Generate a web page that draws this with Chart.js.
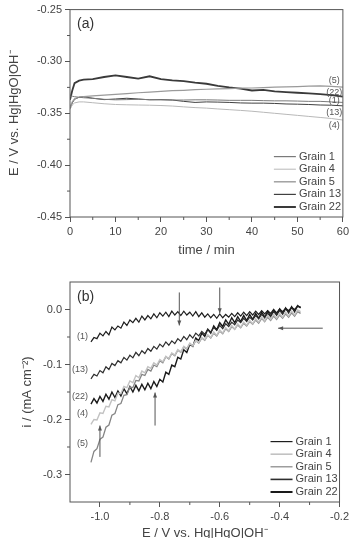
<!DOCTYPE html>
<html>
<head>
<meta charset="utf-8">
<script src="https://cdn.jsdelivr.net/npm/chart.js@4.4.0/dist/chart.umd.min.js"></script>
<style>
  html, body { margin: 0; padding: 0; background: #fff; overflow: hidden; }
  canvas { display: block; }
  #wrapA { position: absolute; left: 0; top: 0; width: 352px; height: 265px; }
  #wrapB { position: absolute; left: 0; top: 265px; width: 352px; height: 273px; }
</style>
</head>
<body>
<div id="wrapA"><canvas id="chartA" width="352" height="265"></canvas></div>
<div id="wrapB"><canvas id="chartB" width="352" height="273"></canvas></div>
<script>
// ---- panel (a): potential vs time ----
const timeMin = [0, 0.5, 1, 2, 3, 5, 7.5, 10, 12.5, 15, 17.5, 20, 22.5, 25, 27.5, 30, 32.5, 35, 37.5, 40, 42.5, 45, 47.5, 50, 52.5, 55, 57.5, 60];
const ocpGrain1 = [-0.3335, -0.3335, -0.334, -0.3345, -0.335, -0.3355, -0.3365, -0.337, -0.3368, -0.3365, -0.3368, -0.337, -0.3372, -0.3372, -0.337, -0.337, -0.3372, -0.3375, -0.3375, -0.3375, -0.3378, -0.338, -0.338, -0.3382, -0.3385, -0.3385, -0.339, -0.3395];
const ocpGrain4 = [-0.346, -0.342, -0.340, -0.339, -0.339, -0.3398, -0.3408, -0.3415, -0.3418, -0.342, -0.3422, -0.3425, -0.343, -0.3438, -0.3445, -0.345, -0.3458, -0.3465, -0.3472, -0.348, -0.349, -0.350, -0.351, -0.352, -0.353, -0.354, -0.355, -0.3565];
const ocpGrain5 = [-0.344, -0.339, -0.336, -0.3345, -0.334, -0.3332, -0.3325, -0.3318, -0.331, -0.3302, -0.3295, -0.3288, -0.3282, -0.3278, -0.3272, -0.3268, -0.3264, -0.3262, -0.3258, -0.3256, -0.3252, -0.3248, -0.3245, -0.3242, -0.3238, -0.3236, -0.324, -0.3248];
const ocpGrain13 = [-0.346, -0.340, -0.3365, -0.3345, -0.334, -0.3355, -0.3368, -0.3362, -0.3355, -0.3362, -0.337, -0.3368, -0.3372, -0.3385, -0.3395, -0.339, -0.3392, -0.3395, -0.340, -0.3402, -0.3402, -0.3405, -0.341, -0.3412, -0.3415, -0.342, -0.3422, -0.3428];
const ocpGrain22 = [-0.337, -0.328, -0.321, -0.3185, -0.3175, -0.317, -0.315, -0.3135, -0.315, -0.3165, -0.3143, -0.317, -0.3182, -0.319, -0.3205, -0.3215, -0.3235, -0.325, -0.3262, -0.328, -0.3275, -0.3288, -0.3295, -0.3302, -0.3308, -0.3315, -0.3325, -0.334];
const timeTicks = [0, 10, 20, 30, 40, 50, 60];
const ocpTicks = [-0.45, -0.40, -0.35, -0.30, -0.25];

// ---- panel (b): current vs potential ----
const potentialE = [
  -1.03, -1.02, -1.01, -1.00, -0.99, -0.98, -0.97, -0.96, -0.95, -0.94,
  -0.93, -0.92, -0.91, -0.90, -0.89, -0.88, -0.87, -0.86, -0.85, -0.84,
  -0.83, -0.82, -0.81, -0.80, -0.79, -0.78, -0.77, -0.76, -0.75, -0.74,
  -0.73, -0.72, -0.71, -0.70, -0.69, -0.68, -0.67, -0.66, -0.65, -0.64,
  -0.63, -0.62, -0.61, -0.60, -0.59, -0.58, -0.57, -0.56, -0.55, -0.54,
  -0.53, -0.52, -0.51, -0.50, -0.49, -0.48, -0.47, -0.46, -0.45, -0.44,
  -0.43, -0.42, -0.41, -0.40, -0.39, -0.38, -0.37, -0.36, -0.35, -0.34,
  -0.33];
const curGrain1 = [
  -0.059, -0.051, -0.053, -0.043, -0.048, -0.040, -0.046, -0.032, -0.037, -0.030,
  -0.034, -0.023, -0.029, -0.019, -0.024, -0.016, -0.023, -0.012, -0.019, -0.011,
  -0.017, -0.008, -0.015, -0.006, -0.012, -0.005, -0.013, -0.003, -0.010, -0.004,
  -0.011, -0.003, -0.010, -0.005, -0.012, -0.004, -0.013, -0.006, -0.014, -0.008,
  -0.015, -0.009, -0.016, -0.008, -0.015, -0.009, -0.014, -0.007, -0.013, -0.006,
  -0.012, -0.005, -0.011, -0.004, -0.010, -0.003, -0.009, -0.002, -0.008, -0.002,
  -0.007, 0.000, -0.006, 0.001, -0.004, 0.002, -0.002, 0.004, 0.000, 0.006,
  0.004];
const curGrain4 = [
  -0.209, -0.200, -0.201, -0.188, -0.189, -0.176, -0.177, -0.164, -0.166, -0.152,
  -0.153, -0.140, -0.142, -0.130, -0.133, -0.120, -0.124, -0.112, -0.115, -0.104,
  -0.107, -0.097, -0.101, -0.091, -0.095, -0.085, -0.089, -0.079, -0.083, -0.073,
  -0.077, -0.067, -0.071, -0.061, -0.066, -0.056, -0.060, -0.051, -0.055, -0.046,
  -0.051, -0.041, -0.047, -0.037, -0.043, -0.033, -0.039, -0.029, -0.036, -0.026,
  -0.032, -0.023, -0.029, -0.020, -0.026, -0.017, -0.023, -0.014, -0.021, -0.011,
  -0.018, -0.009, -0.016, -0.007, -0.014, -0.005, -0.012, -0.003, -0.010, -0.001,
  -0.004];
const curGrain5 = [
  -0.278, -0.258, -0.253, -0.236, -0.232, -0.214, -0.210, -0.192, -0.189, -0.173,
  -0.171, -0.156, -0.155, -0.141, -0.142, -0.129, -0.130, -0.118, -0.120, -0.109,
  -0.112, -0.101, -0.104, -0.093, -0.097, -0.086, -0.090, -0.080, -0.084, -0.074,
  -0.078, -0.068, -0.072, -0.062, -0.066, -0.057, -0.061, -0.052, -0.056, -0.047,
  -0.052, -0.043, -0.048, -0.039, -0.044, -0.035, -0.040, -0.031, -0.036, -0.028,
  -0.033, -0.025, -0.030, -0.022, -0.027, -0.019, -0.025, -0.016, -0.022, -0.014,
  -0.020, -0.012, -0.018, -0.010, -0.016, -0.008, -0.014, -0.006, -0.012, -0.004,
  -0.007];
const curGrain13 = [
  -0.126, -0.118, -0.121, -0.111, -0.115, -0.104, -0.109, -0.098, -0.102, -0.093,
  -0.097, -0.087, -0.092, -0.083, -0.088, -0.078, -0.084, -0.075, -0.080, -0.071,
  -0.076, -0.067, -0.072, -0.063, -0.068, -0.059, -0.065, -0.057, -0.062, -0.053,
  -0.058, -0.049, -0.055, -0.046, -0.052, -0.043, -0.048, -0.040, -0.045, -0.036,
  -0.041, -0.033, -0.038, -0.029, -0.035, -0.026, -0.031, -0.023, -0.028, -0.019,
  -0.024, -0.016, -0.022, -0.014, -0.019, -0.011, -0.017, -0.009, -0.015, -0.007,
  -0.013, -0.004, -0.010, -0.002, -0.008, 0.001, -0.005, 0.003, -0.002, 0.006,
  0.004];
const curGrain22 = [
  -0.172, -0.162, -0.170, -0.158, -0.167, -0.154, -0.163, -0.150, -0.160, -0.148,
  -0.157, -0.144, -0.153, -0.140, -0.150, -0.138, -0.148, -0.136, -0.146, -0.134,
  -0.144, -0.131, -0.140, -0.127, -0.132, -0.114, -0.118, -0.101, -0.104, -0.087,
  -0.090, -0.073, -0.078, -0.063, -0.067, -0.052, -0.057, -0.043, -0.049, -0.036,
  -0.043, -0.030, -0.037, -0.024, -0.031, -0.019, -0.027, -0.015, -0.024, -0.013,
  -0.022, -0.011, -0.020, -0.009, -0.018, -0.007, -0.016, -0.005, -0.014, -0.003,
  -0.012, -0.001, -0.010, 0.001, -0.008, 0.003, -0.006, 0.005, -0.004, 0.007,
  0.003];
const potTicks = [-1.0, -0.8, -0.6, -0.4, -0.2];
const curTicks = [-0.3, -0.2, -0.1, 0.0];

const grainNames = ['Grain 1', 'Grain 4', 'Grain 5', 'Grain 13', 'Grain 22'];

Chart.defaults.font.family = '"Liberation Sans", Arial, sans-serif';
Chart.defaults.color = '#444';

// frame, minor ticks, legend, labels and arrows drawn on top
const framePlugin = {
  id: 'frame',
  afterDraw(chart, args, opts) {
    const { ctx, chartArea: a, scales } = chart;
    const sx = scales.x, sy = scales.y;
    ctx.save();
    ctx.strokeStyle = '#555';
    ctx.lineWidth = 1;
    ctx.strokeRect(a.left, a.top, a.width, a.height);

    // minor ticks
    ctx.beginPath();
    opts.minorX.forEach(v => {
      const x = sx.getPixelForValue(v);
      ctx.moveTo(x, a.bottom); ctx.lineTo(x, a.bottom + 3);
    });
    opts.minorY.forEach(v => {
      const y = sy.getPixelForValue(v);
      ctx.moveTo(a.left - 3, y); ctx.lineTo(a.left, y);
    });
    ctx.stroke();

    // panel letter
    ctx.fillStyle = '#333';
    ctx.font = '14px "Liberation Sans", Arial, sans-serif';
    ctx.textBaseline = 'middle';
    ctx.textAlign = 'left';
    ctx.fillText(opts.letter, a.left + 7, a.top + 15);

    // curve labels
    ctx.font = '9px "Liberation Sans", Arial, sans-serif';
    ctx.fillStyle = '#555';
    ctx.textAlign = opts.labelAlign;
    opts.labels.forEach(l => {
      ctx.fillText(l.text, sx.getPixelForValue(l.x), sy.getPixelForValue(l.y));
    });

    // arrows
    ctx.strokeStyle = '#555';
    ctx.fillStyle = '#555';
    (opts.arrows || []).forEach(ar => {
      const x1 = sx.getPixelForValue(ar.from[0]), y1 = sy.getPixelForValue(ar.from[1]);
      const x2 = sx.getPixelForValue(ar.to[0]), y2 = sy.getPixelForValue(ar.to[1]);
      const ang = Math.atan2(y2 - y1, x2 - x1);
      ctx.beginPath();
      ctx.moveTo(x1, y1); ctx.lineTo(x2, y2);
      ctx.stroke();
      ctx.beginPath();
      ctx.moveTo(x2, y2);
      ctx.lineTo(x2 - 5 * Math.cos(ang) + 2 * Math.sin(ang), y2 - 5 * Math.sin(ang) - 2 * Math.cos(ang));
      ctx.lineTo(x2 - 5 * Math.cos(ang) - 2 * Math.sin(ang), y2 - 5 * Math.sin(ang) + 2 * Math.cos(ang));
      ctx.closePath();
      ctx.fill();
    });

    // legend in the lower right corner
    ctx.font = '11px "Liberation Sans", Arial, sans-serif';
    ctx.textAlign = 'left';
    const ds = chart.data.datasets;
    ds.forEach((d, i) => {
      const y = a.bottom - 10 - (ds.length - 1 - i) * 12.6;
      ctx.strokeStyle = d.borderColor;
      ctx.lineWidth = opts.legendWidths[i];
      ctx.beginPath();
      ctx.moveTo(a.right - 69, y); ctx.lineTo(a.right - 47, y);
      ctx.stroke();
      ctx.fillStyle = '#444';
      ctx.fillText(d.label, a.right - 44, y);
    });
    ctx.restore();
  }
};

function makeAxis(min, max, tickVals, decimals, title, titlePad, size, horizontal) {
  return {
    type: 'linear',
    min: min,
    max: max,
    afterBuildTicks: s => { s.ticks = tickVals.map(v => ({ value: v })); },
    afterFit: s => { if (horizontal) s.height = size; else s.width = size; },
    ticks: {
      font: { size: 11 },
      color: '#444',
      padding: 3,
      autoSkip: false,
      maxRotation: 0,
      callback: v => Number(v).toFixed(decimals)
    },
    grid: { drawOnChartArea: false, drawTicks: true, tickLength: 5, color: '#555' },
    border: { display: false },
    title: {
      display: true,
      text: title,
      color: '#444',
      font: { size: 13, lineHeight: 1.2 },
      padding: titlePad
    }
  };
}

function pairs(xs, ys) {
  return xs.map((x, i) => ({ x: x, y: ys[i] }));
}

// chart (a)
new Chart(document.getElementById('chartA'), {
  type: 'line',
  data: {
    datasets: [
      { label: grainNames[0], data: pairs(timeMin, ocpGrain1), borderColor: '#7a7a7a', borderWidth: 1 },
      { label: grainNames[1], data: pairs(timeMin, ocpGrain4), borderColor: '#b8b8b8', borderWidth: 1 },
      { label: grainNames[2], data: pairs(timeMin, ocpGrain5), borderColor: '#9a9a9a', borderWidth: 1.2 },
      { label: grainNames[3], data: pairs(timeMin, ocpGrain13), borderColor: '#404040', borderWidth: 1 },
      { label: grainNames[4], data: pairs(timeMin, ocpGrain22), borderColor: '#3a3a3a', borderWidth: 1.8 }
    ]
  },
  options: {
    responsive: false,
    animation: false,
    parsing: true,
    elements: { point: { radius: 0 }, line: { tension: 0 } },
    layout: { padding: { left: 0, right: 8, top: 9, bottom: 0 } },
    plugins: {
      legend: { display: false },
      tooltip: { enabled: false },
      frame: {
        letter: '(a)',
        minorX: [5, 15, 25, 35, 45, 55],
        minorY: [-0.425, -0.375, -0.325, -0.275],
        labelAlign: 'center',
        labels: [
          { text: '(5)', x: 58.1, y: -0.3183 },
          { text: '(22)', x: 58.1, y: -0.3295 },
          { text: '(1)', x: 58.1, y: -0.3375 },
          { text: '(13)', x: 58.1, y: -0.3493 },
          { text: '(4)', x: 58.1, y: -0.3622 }
        ],
        legendWidths: [1.2, 1, 1.4, 1.2, 2]
      }
    },
    scales: {
      x: makeAxis(0, 60, timeTicks, 0, 'time / min', { top: 0, bottom: 7 }, 48, true),
      y: makeAxis(-0.45, -0.25, ocpTicks, 2, 'E / V vs. Hg|HgO|OH\u207B', { top: 7, bottom: 0 }, 70, false)
    }
  },
  plugins: [framePlugin]
});

// chart (b)
new Chart(document.getElementById('chartB'), {
  type: 'line',
  data: {
    datasets: [
      { label: grainNames[0], data: pairs(potentialE, curGrain1), borderColor: '#1e1e1e', borderWidth: 1.2 },
      { label: grainNames[1], data: pairs(potentialE, curGrain4), borderColor: '#c2c2c2', borderWidth: 1.4 },
      { label: grainNames[2], data: pairs(potentialE, curGrain5), borderColor: '#858585', borderWidth: 1.3 },
      { label: grainNames[3], data: pairs(potentialE, curGrain13), borderColor: '#2e2e2e', borderWidth: 1.2 },
      { label: grainNames[4], data: pairs(potentialE, curGrain22), borderColor: '#1a1a1a', borderWidth: 1.4 }
    ]
  },
  options: {
    responsive: false,
    animation: false,
    elements: { point: { radius: 0 }, line: { tension: 0 } },
    layout: { padding: { left: 0, right: 10, top: 17, bottom: 0 } },
    plugins: {
      legend: { display: false },
      tooltip: { enabled: false },
      frame: {
        letter: '(b)',
        minorX: [-0.9, -0.7, -0.5, -0.3],
        minorY: [-0.25, -0.15, -0.05],
        labelAlign: 'right',
        labels: [
          { text: '(1)', x: -1.04, y: -0.049 },
          { text: '(13)', x: -1.04, y: -0.1096 },
          { text: '(22)', x: -1.04, y: -0.158 },
          { text: '(4)', x: -1.04, y: -0.1885 },
          { text: '(5)', x: -1.04, y: -0.243 }
        ],
        arrows: [
          { from: [-0.735, 0.031], to: [-0.735, -0.029] },
          { from: [-0.6, 0.040], to: [-0.6, -0.007] },
          { from: [-0.816, -0.211], to: [-0.816, -0.151] },
          { from: [-1.0, -0.268], to: [-1.0, -0.211] },
          { from: [-0.256, -0.034], to: [-0.405, -0.034] }
        ],
        legendWidths: [1.2, 1.6, 1.2, 1.6, 2]
      }
    },
    scales: {
      x: makeAxis(-1.1, -0.2, potTicks, 1, 'E / V vs. Hg|HgO|OH\u207B', { top: 0, bottom: -3 }, 36, true),
      y: makeAxis(-0.35, 0.05, curTicks, 1, 'i / (mA cm\u207B\u00B2)', { top: 20, bottom: 0 }, 70, false)
    }
  },
  plugins: [framePlugin]
});
</script>
</body>
</html>
